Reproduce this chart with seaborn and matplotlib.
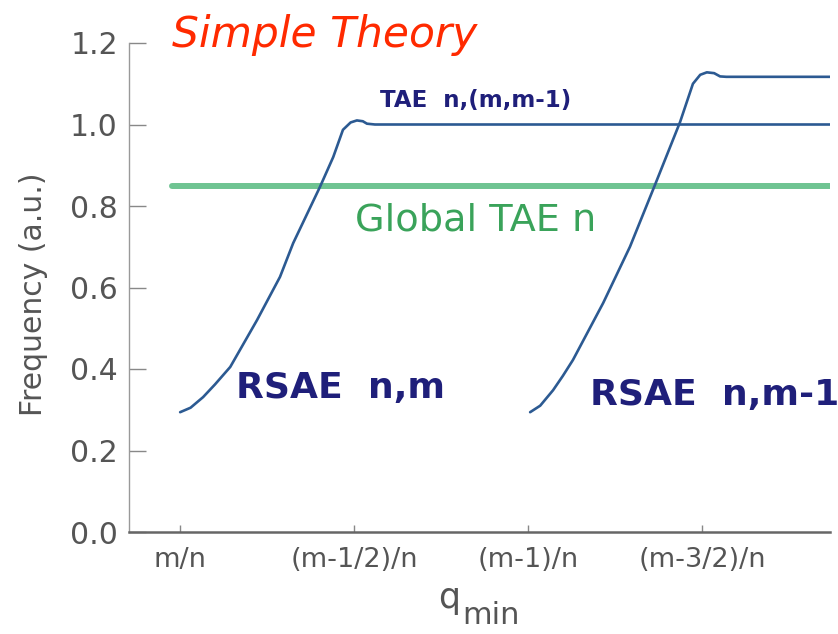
import matplotlib
matplotlib.use("Agg")
import matplotlib.pyplot as plt
import seaborn as sns
import pandas as pd

# ---- data (x in units of 1/n offset from m/n; y in a.u.) ----
rsae1_x = [0.0, 0.03, 0.066, 0.10, 0.144, 0.221, 0.287, 0.325, 0.402, 0.44, 0.468,
           0.49, 0.508, 0.525, 0.537, 0.56, 1.868]
rsae1_y = [0.294, 0.305, 0.331, 0.362, 0.405, 0.520, 0.626, 0.709, 0.847, 0.92, 0.987,
           1.005, 1.01, 1.008, 1.002, 1.0, 1.0]

rsae2_x = [1.006, 1.035, 1.072, 1.10, 1.129, 1.216, 1.293, 1.365, 1.437, 1.474,
           1.495, 1.514, 1.535, 1.552, 1.57, 1.868]
rsae2_y = [0.294, 0.31, 0.348, 0.383, 0.422, 0.562, 0.70, 0.852, 1.006, 1.10,
           1.122, 1.128, 1.126, 1.118, 1.117, 1.117]

global_tae_x = [-0.023, 1.868]
global_tae_y = [0.85, 0.85]

xtick_pos = [0.0, 0.5, 1.0, 1.5]
xtick_labels = ["m/n", "(m-1/2)/n", "(m-1)/n", "(m-3/2)/n"]
ytick_pos = [0.0, 0.2, 0.4, 0.6, 0.8, 1.0, 1.2]
ytick_labels = ["0.0", "0.2", "0.4", "0.6", "0.8", "1.0", "1.2"]

sns.set_theme(style="white")
plt.rcParams["font.family"] = ["DejaVu Sans"]

fig = plt.figure(figsize=(8.38, 6.34), dpi=100)
ax = fig.add_axes([129 / 838, 1 - 532 / 634, 701 / 838, 489 / 634])

curve_col = "#2c5a92"
navy = "#1f1f7a"
green_line = "#6fc492"
green_text = "#3aa35a"
gray = "#555555"

sns.lineplot(x=global_tae_x, y=global_tae_y, ax=ax, color=green_line,
             linewidth=4.3, estimator=None)
sns.lineplot(x=rsae1_x, y=rsae1_y, ax=ax, color=curve_col, linewidth=1.9,
             estimator=None)
sns.lineplot(x=rsae2_x, y=rsae2_y, ax=ax, color=curve_col, linewidth=1.9,
             estimator=None)

ax.set_xlim(-0.147, 1.868)
ax.set_ylim(0, 1.2)
ax.set_xticks(xtick_pos)
ax.set_xticklabels(xtick_labels)
ax.set_yticks(ytick_pos)
ax.set_yticklabels(ytick_labels)

for s in ["top", "right"]:
    ax.spines[s].set_visible(False)
ax.spines["left"].set_color("#999999")
ax.spines["left"].set_linewidth(1.0)
ax.spines["left"].set_linestyle((0, (1, 1)))
ax.spines["bottom"].set_color("#666666")
ax.spines["bottom"].set_linewidth(1.8)

ax.tick_params(axis="y", direction="in", length=12, width=1.0, color="#888888",
               labelsize=21.5, labelcolor=gray, pad=8, left=True)
ax.tick_params(axis="x", direction="in", length=5, width=1.0, color="#888888",
               labelsize=19.5, labelcolor=gray, pad=11, bottom=True)

ax.set_ylabel("Frequency (a.u.)", fontsize=21.5, color=gray)
ax.yaxis.set_label_coords(-0.1155, 0.487)

# annotations
ax.text(0.575, 1.043, "TAE  n,(m,m-1)", fontsize=16.5, fontweight="bold",
        color=navy, ha="left", va="baseline")
ax.text(0.503, 0.741, "Global TAE n", fontsize=27.5, color=green_text,
        ha="left", va="baseline")
ax.text(0.161, 0.329, "RSAE  n,m", fontsize=26, fontweight="bold",
        color=navy, ha="left", va="baseline")
ax.text(1.178, 0.312, "RSAE  n,m-1", fontsize=26, fontweight="bold",
        color=navy, ha="left", va="baseline", clip_on=False)

fig.text(172 / 838, 1 - 47 / 634, "Simple Theory", fontsize=30.5,
         style="italic", color="#ff2a00", ha="left", va="baseline")

# x-axis label q_min
fig.text(438 / 838, 1 - 608 / 634, "q", fontsize=25, color=gray,
         ha="left", va="baseline")
fig.text(462 / 838, 1 - 624 / 634, "min", fontsize=22, color=gray,
         ha="left", va="baseline")

fig.savefig("out.png", dpi=100)
